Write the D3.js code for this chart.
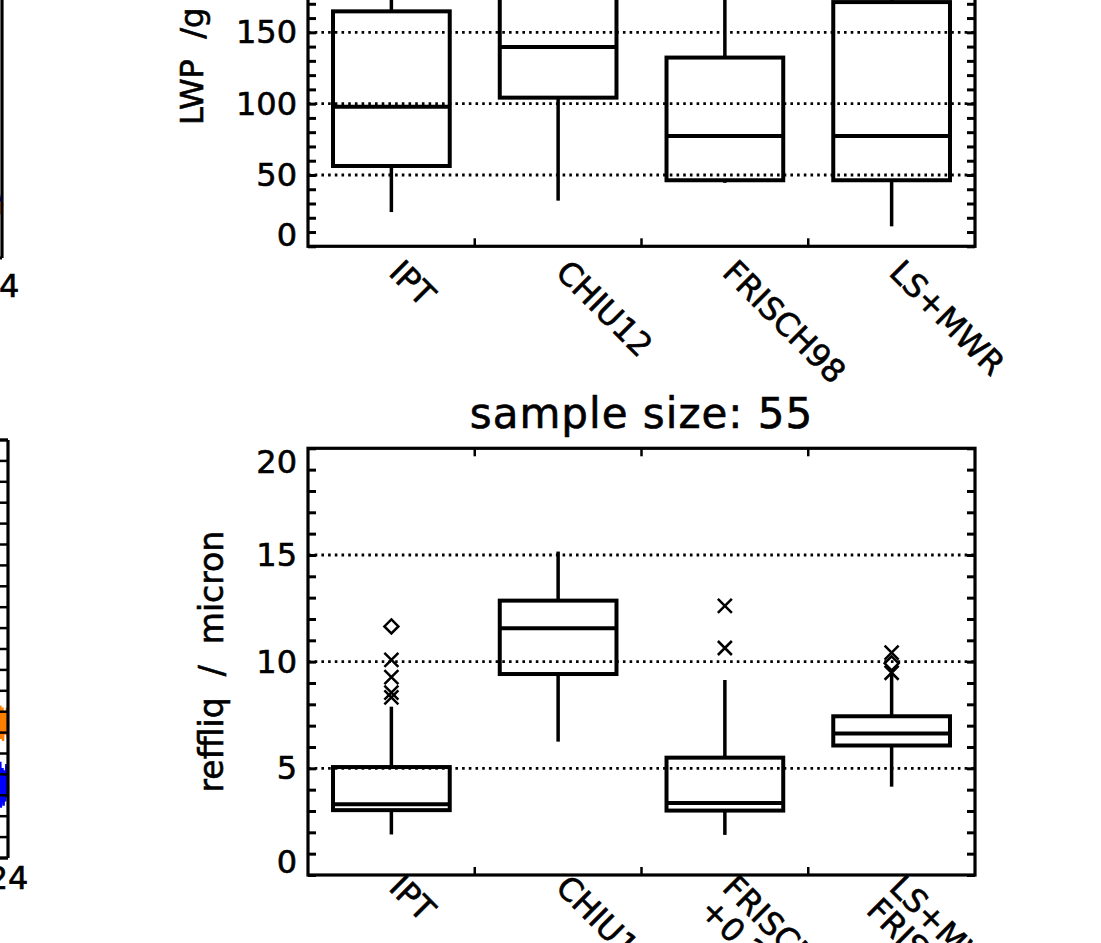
<!DOCTYPE html>
<html>
<head>
<meta charset="utf-8">
<script src="https://cdn.jsdelivr.net/npm/d3@7"></script>
<style>
  html, body { margin: 0; padding: 0; background: #fff; }
  svg { display: block; }
  text { font-family: "DejaVu Sans", sans-serif; fill: #000; stroke: #000; stroke-width: 0.6px; }
</style>
</head>
<body>
<svg id="chart" width="1101" height="943"></svg>
<script>
// ---------------- DATA ----------------
const categories = ["IPT", "CHIU12", "FRISCH98", "LS+MWR"];
const bottomLabels = [["IPT"], ["CHIU12"], ["FRISCH98", "+0.2"], ["LS+MWR", "FRISCH98"]];

// LWP panel (top)
const lwpLow  = [24, 32, 44.5, 14];
const lwpQ1   = [56.3, 104.2, 46.3, 46.3];
const lwpMed  = [97.8, 139.8, 77.3, 77.3];
const lwpQ3   = [164.7, 186, 132.3, 171.2];
const lwpHigh = [235, 260, 250, 255];
const lwpTicks = [0, 50, 100, 150];
const lwpGrid = [50, 100, 150, 200];

// reffliq panel (bottom)
const refLow  = [1.9, 6.25, 1.88, 4.14];
const refQ1   = [3.04, 9.42, 3.02, 6.07];
const refMed  = [3.32, 11.56, 3.37, 6.63];
const refQ3   = [5.06, 12.86, 5.5, 7.44];
const refHigh = [7.89, 15.16, 9.14, 9.45];
const refTicks = [0, 5, 10, 15, 20];
const refGrid = [5, 10, 15];
// outliers: [category index, value]
const refCross = [[0, 10.08], [0, 9.27], [0, 8.55], [0, 8.33], [2, 12.61], [2, 10.64], [3, 10.42], [3, 9.48]];
const refDiamond = [[0, 11.65], [3, 9.92]];

// partial left panels (right edge of time series, hours)
const leftBotTime   = [23.62, 23.64, 23.66, 23.68, 23.70, 23.72, 23.74, 23.76, 23.78, 23.80, 23.82, 23.84, 23.86, 23.88, 23.90, 23.92, 23.94, 23.96, 23.98, 24.00];
const leftBotOrange = [6.4, 7.1, 5.8, 6.9, 6.2, 7.3, 5.7, 6.8, 6.0, 7.2, 5.6, 6.6, 6.3, 7.0, 5.9, 6.7, 6.1, 7.2, 5.8, 6.5];
const leftBotBlue   = [3.6, 4.4, 2.6, 4.1, 3.0, 4.6, 2.4, 3.9, 2.8, 4.3, 3.2, 2.5, 3.7, 4.2, 2.7, 3.4, 4.5, 2.9, 3.8, 3.3];
const leftTopTime   = [23.70, 23.75, 23.80, 23.85, 23.90, 23.95, 24.00];
const leftTopOrange = [2.5, 2.1, 2.8, 2.2, 2.7, 2.1, 2.6];
const leftTopBlue   = [3.1, 2.7, 3.15, 2.7, 3.1, 2.7, 3.0];

// ---------------- DRAW ----------------
const svg = d3.select("#chart");
const X0 = 308, X1 = 975;
const x = d3.scaleBand().domain(categories).range([X0, X1]).paddingInner(0).paddingOuter(0);
const boxW = x.bandwidth() * 0.7;
const cx = c => x(c) + x.bandwidth() / 2;

function panel(opts) {
  const g = svg.append("g");
  const y = opts.y;
  const [yBot, yTop] = y.range();
  // grid
  g.selectAll(".grid").data(opts.grid).join("line")
    .attr("x1", X0).attr("x2", X1)
    .attr("y1", d => y(d)).attr("y2", d => y(d))
    .attr("stroke", "#000").attr("stroke-width", 2.8)
    .attr("stroke-dasharray", "2.6,4.1");
  // minor ticks left & right
  const tickVals = d3.range(opts.domain[0], opts.domain[1] + 1e-9, opts.minor);
  const axL = d3.axisLeft(y).tickValues(tickVals).tickSize(-8).tickFormat("");
  const axR = d3.axisRight(y).tickValues(tickVals).tickSize(-8).tickFormat("");
  const gl = g.append("g").attr("transform", `translate(${X0},0)`).call(axL);
  const gr = g.append("g").attr("transform", `translate(${X1},0)`).call(axR);
  [gl, gr].forEach(a => {
    a.select(".domain").remove();
    a.selectAll(".tick line").attr("stroke", "#000").attr("stroke-width", 3);
  });
  // x ticks at band boundaries
  const bounds = categories.slice(1).map(c => x(c));
  g.selectAll(".xtb").data(bounds).join("line")
    .attr("x1", d => d).attr("x2", d => d).attr("y1", yBot).attr("y2", yBot - 8)
    .attr("stroke", "#000").attr("stroke-width", 2.5);
  g.selectAll(".xtt").data(bounds).join("line")
    .attr("x1", d => d).attr("x2", d => d).attr("y1", yTop).attr("y2", yTop + 8)
    .attr("stroke", "#000").attr("stroke-width", 2.5);
  // boxes
  categories.forEach((c, i) => {
    const xc = cx(c);
    g.append("line").attr("x1", xc).attr("x2", xc)
      .attr("y1", y(opts.low[i])).attr("y2", y(opts.q1[i]))
      .attr("stroke", "#000").attr("stroke-width", 3.5);
    g.append("line").attr("x1", xc).attr("x2", xc)
      .attr("y1", y(opts.q3[i])).attr("y2", y(opts.high[i]))
      .attr("stroke", "#000").attr("stroke-width", 3.5);
    g.append("rect").attr("x", xc - boxW / 2).attr("width", boxW)
      .attr("y", y(opts.q3[i])).attr("height", y(opts.q1[i]) - y(opts.q3[i]))
      .attr("fill", "none").attr("stroke", "#000").attr("stroke-width", 4);
    g.append("line").attr("x1", xc - boxW / 2).attr("x2", xc + boxW / 2)
      .attr("y1", y(opts.med[i])).attr("y2", y(opts.med[i]))
      .attr("stroke", "#000").attr("stroke-width", 4);
  });
  // frame
  g.append("rect").attr("x", X0).attr("y", yTop).attr("width", X1 - X0).attr("height", yBot - yTop)
    .attr("fill", "none").attr("stroke", "#000").attr("stroke-width", 3.2);
  // tick labels
  g.selectAll(".yl").data(opts.ticks).join("text")
    .attr("x", 297)
    .attr("y", d => y(d) + (opts.labelShift[d] || 0))
    .attr("text-anchor", "end").attr("dominant-baseline", "central")
    .attr("font-size", 32).text(d => d);
  return g;
}

// Top panel (LWP)
const yTopP = d3.scaleLinear().domain([0, 200]).range([246.3, -39]);
panel({ y: yTopP, domain: [0, 200], minor: 10, grid: lwpGrid, ticks: lwpTicks,
  labelShift: { 0: -11 }, low: lwpLow, q1: lwpQ1, med: lwpMed, q3: lwpQ3, high: lwpHigh });

// Bottom panel (reffliq)
const yBotP = d3.scaleLinear().domain([0, 20]).range([875, 448.3]);
const gb = panel({ y: yBotP, domain: [0, 20], minor: 1, grid: refGrid, ticks: refTicks,
  labelShift: { 0: -13, 20: 14 }, low: refLow, q1: refQ1, med: refMed, q3: refQ3, high: refHigh });

// outliers
const s = 7;
gb.selectAll(".cross").data(refCross).join("path")
  .attr("d", d => {
    const px = cx(categories[d[0]]), py = yBotP(d[1]);
    return `M${px - s},${py - s}L${px + s},${py + s}M${px - s},${py + s}L${px + s},${py - s}`;
  })
  .attr("stroke", "#000").attr("stroke-width", 2.5).attr("fill", "none");
gb.selectAll(".diam").data(refDiamond).join("path")
  .attr("d", d => {
    const px = cx(categories[d[0]]), py = yBotP(d[1]);
    return `M${px},${py - s}L${px + s},${py}L${px},${py + s}L${px - s},${py}Z`;
  })
  .attr("stroke", "#000").attr("stroke-width", 2.5).attr("fill", "none");

// x category labels (rotated 45deg)
categories.forEach((c, i) => {
  svg.append("text")
    .attr("transform", `translate(${cx(c) - 4},${274}) rotate(45)`)
    .attr("font-size", 32).text(c);
});
bottomLabels.forEach((lines, i) => {
  const t = svg.append("text")
    .attr("transform", `translate(${cx(categories[i]) - 4},${889}) rotate(45)`)
    .attr("font-size", 32);
  lines.forEach((ln, k) => {
    t.append("tspan").attr("x", 0).attr("dy", k === 0 ? 0 : "1.0em").text(ln);
  });
});

// axis titles
svg.append("text").attr("transform", "translate(203,125) rotate(-90)")
  .attr("text-anchor", "start").attr("font-size", 32)
  .attr("xml:space", "preserve").text("LWP  /g m\u207B\u00B2");
svg.append("text").attr("transform", `translate(223,${(875 + 448.3) / 2}) rotate(-90)`)
  .attr("text-anchor", "middle").attr("font-size", 33)
  .attr("xml:space", "preserve").text("reffliq  /  micron");

// title of bottom panel
svg.append("text").attr("x", (X0 + X1) / 2).attr("y", 428)
  .attr("text-anchor", "middle").attr("font-size", 42).attr("letter-spacing", 1)
  .text("sample size: 55");

// ---------- partial left panels ----------
// bottom-left
const lbx = d3.scaleLinear().domain([0, 24]).range([8 - 660, 8]);
const lby = d3.scaleLinear().domain([0, 20]).range([858, 440]);
const lineB = d3.line().x((d, i) => lbx(leftBotTime[i])).y(d => lby(d));
svg.append("path").attr("d", lineB(leftBotOrange)).attr("fill", "none")
  .attr("stroke", "#FF8000").attr("stroke-width", 2.5);
svg.append("path").attr("d", lineB(leftBotBlue)).attr("fill", "none")
  .attr("stroke", "#0000FF").attr("stroke-width", 2.5);
const lbTicks = d3.range(0, 20.001, 1);
svg.selectAll(".lbt").data(lbTicks).join("line")
  .attr("x1", lbx(24) - 8).attr("x2", lbx(24))
  .attr("y1", d => lby(d)).attr("y2", d => lby(d))
  .attr("stroke", "#000").attr("stroke-width", 2.5);
svg.append("line").attr("x1", lbx(24)).attr("x2", lbx(24)).attr("y1", lby(20)).attr("y2", lby(0))
  .attr("stroke", "#000").attr("stroke-width", 3.2);
svg.append("line").attr("x1", lbx(23)).attr("x2", lbx(24)).attr("y1", lby(0)).attr("y2", lby(0))
  .attr("stroke", "#000").attr("stroke-width", 3.2);
svg.append("line").attr("x1", lbx(23)).attr("x2", lbx(24)).attr("y1", lby(20)).attr("y2", lby(20))
  .attr("stroke", "#000").attr("stroke-width", 3.2);
svg.append("text").attr("x", lbx(24)).attr("y", 889).attr("text-anchor", "middle")
  .attr("font-size", 32).text("24");

// top-left
const ltx = d3.scaleLinear().domain([0, 24]).range([2 - 660, 2]);
const lty = d3.scaleLinear().domain([0, 20]).range([258, -160]);
const lineT = d3.line().x((d, i) => ltx(leftTopTime[i])).y(d => lty(d));
svg.append("path").attr("d", lineT(leftTopOrange)).attr("fill", "none")
  .attr("stroke", "#FF8000").attr("stroke-width", 3);
svg.append("path").attr("d", lineT(leftTopBlue)).attr("fill", "none")
  .attr("stroke", "#0000FF").attr("stroke-width", 1.5);
svg.append("line").attr("x1", ltx(24)).attr("x2", ltx(24)).attr("y1", -5).attr("y2", lty(0))
  .attr("stroke", "#000").attr("stroke-width", 3.2);
svg.append("line").attr("x1", ltx(23)).attr("x2", ltx(24)).attr("y1", lty(0)).attr("y2", lty(0))
  .attr("stroke", "#000").attr("stroke-width", 3.2);
svg.append("text").attr("x", ltx(24) - 3).attr("y", 297).attr("text-anchor", "middle")
  .attr("font-size", 32).text("24");
</script>
</body>
</html>
